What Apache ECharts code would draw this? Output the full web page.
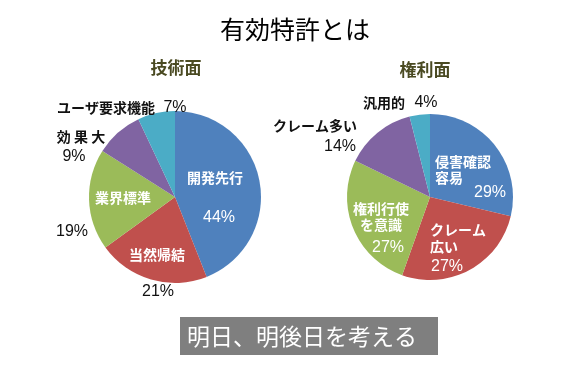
<!DOCTYPE html>
<html><head><meta charset="utf-8">
<script src="https://cdn.jsdelivr.net/npm/echarts@6/dist/echarts.min.js"></script>
<style>html,body{margin:0;padding:0;background:#fff}#c{width:588px;height:389px}</style>
</head><body><div id="c"></div>
<script>
// ---- data ----
const chartTitle = '有効特許とは';
const techTitle = '技術面';
const rightTitle = '権利面';
const footerText = '明日、明後日を考える';
const techNames = ['開発先行', '当然帰結', '業界標準', '効 果 大', 'ユーザ要求機能'];
const techValues = [44, 21, 19, 9, 7];
const rightNames = ['侵害確認\n容易', 'クレーム\n広い', '権利行使\nを意識', 'クレーム多い', '汎用的'];
const rightValues = [29, 27, 27, 14, 4];

// ---- style / layout ----
const colors = ['#4F81BD', '#C0504D', '#9BBB59', '#8064A2', '#4BACC6'];
const CJK = '"Noto Sans CJK JP", "Noto Sans", sans-serif';
const LAT = '"Liberation Sans", Arial, sans-serif';
const W = '#ffffff', B = '#111111';

// label placement [x, y, align, color, lineHeight]
const techNameLayout = [
  [215, 178, 'center', W], [157, 255, 'center', W], [123, 198, 'center', W],
  [81, 137, 'center', B], [106, 108, 'center', B]
];
const techPctLayout = [
  [219, 218, 'center', W], [158, 292, 'center', B], [72, 232, 'center', B],
  [74, 157, 'center', B], [175, 108, 'center', B]
];
const rightNameLayout = [
  [435, 170, 'left', W, 16], [430, 238, 'left', W, 17], [381, 217, 'center', W, 16],
  [357, 126, 'right', B], [384, 103, 'center', B]
];
const rightPctLayout = [
  [490, 193, 'center', W], [447, 267, 'center', W], [388, 248, 'center', W],
  [340, 147, 'center', B], [426, 103, 'center', B]
];

function makeData(names, values, layout, isPct) {
  return names.map((n, i) => ({
    name: n,
    value: values[i],
    label: {
      color: layout[i][3],
      lineHeight: layout[i][4] || 17,
      fontFamily: isPct ? LAT : CJK,
      fontSize: isPct ? 16 : 14,
      fontWeight: isPct ? 'normal' : 'bold'
    }
  }));
}

function pieSeries(names, values, layout, center, radius, isPct) {
  return {
    type: 'pie',
    center: center,
    radius: radius,
    startAngle: 90,
    clockwise: true,
    silent: isPct,
    animation: false,
    color: colors,
    itemStyle: isPct ? { color: 'rgba(0,0,0,0)' } : { borderWidth: 0 },
    label: {
      show: true,
      position: 'inside',
      formatter: isPct ? (p => p.value + '%') : (p => p.name)
    },
    labelLine: { show: false },
    labelLayout: function (p) {
      const l = layout[p.dataIndex];
      return { x: l[0], y: l[1], align: l[2], verticalAlign: 'middle' };
    },
    data: makeData(names, values, layout, isPct)
  };
}

const chart = echarts.init(document.getElementById('c'), null, { renderer: 'canvas' });
chart.setOption({
  backgroundColor: '#ffffff',
  title: [
    { text: chartTitle, left: 295, top: 17, textAlign: 'center', padding: 0,
      textStyle: { fontFamily: CJK, fontSize: 25, fontWeight: 'normal', color: '#000' } },
    { text: techTitle, left: 176, top: 59, textAlign: 'center', padding: 0,
      textStyle: { fontFamily: CJK, fontSize: 17, fontWeight: 'bold', color: '#4A4A22' } },
    { text: rightTitle, left: 425, top: 61, textAlign: 'center', padding: 0,
      textStyle: { fontFamily: CJK, fontSize: 17, fontWeight: 'bold', color: '#4A4A22' } }
  ],
  series: [
    pieSeries(techNames, techValues, techNameLayout, [175, 197], 86, false),
    pieSeries(techNames, techValues, techPctLayout, [175, 197], 86, true),
    pieSeries(rightNames, rightValues, rightNameLayout, [430, 197], 83, false),
    pieSeries(rightNames, rightValues, rightPctLayout, [430, 197], 83, true)
  ],
  graphic: [
    { type: 'rect', shape: { x: 180, y: 317, width: 258, height: 38 }, style: { fill: '#7F7F7F' } },
    { type: 'text', x: 187, y: 336, style: { text: footerText, fill: '#fff', fontFamily: CJK,
      fontSize: 23, verticalAlign: 'middle', align: 'left' } }
  ]
});
</script>
</body></html>
